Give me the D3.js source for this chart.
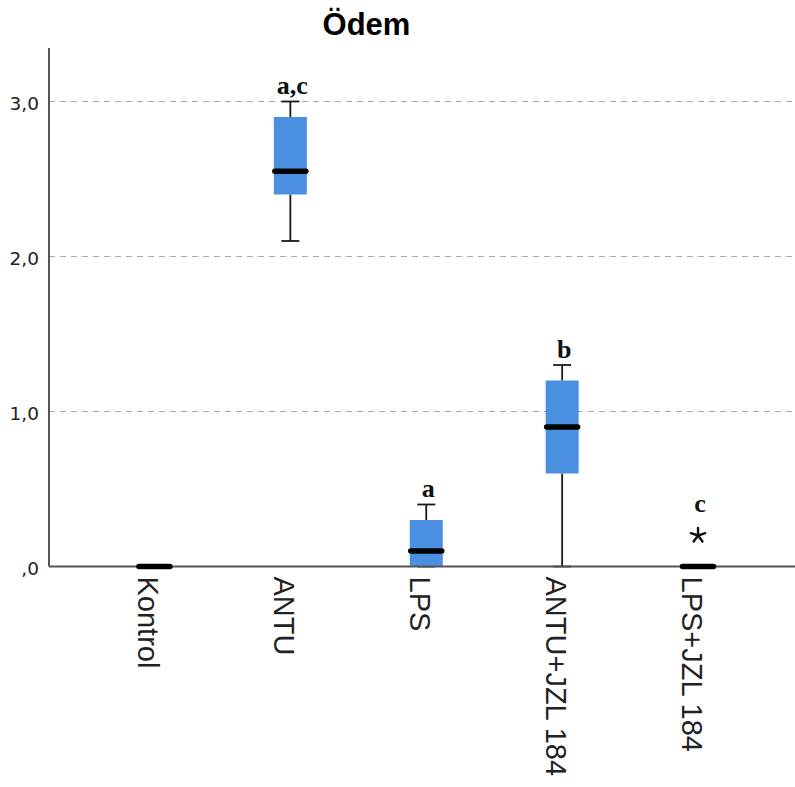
<!DOCTYPE html>
<html>
<head>
<meta charset="utf-8">
<script src="https://cdn.jsdelivr.net/npm/d3@7"></script>
<style>
  html, body { margin: 0; padding: 0; background: #fff; }
  svg { display: block; }
</style>
</head>
<body>
<svg id="chart" width="795" height="787"></svg>
<script>
// Box plot data per group (Ödem score)
const groups      = ["Kontrol", "ANTU", "LPS", "ANTU+JZL 184", "LPS+JZL 184"];
const whiskerLow  = [0, 2.1, 0, 0, 0];
const q1          = [0, 2.4, 0, 0.6, 0];
const median      = [0, 2.55, 0.1, 0.9, 0];
const q3          = [0, 2.9, 0.3, 1.2, 0];
const whiskerHigh = [0, 3.0, 0.4, 1.3, 0];
const outliers    = [[], [], [], [], [0.2]];
const letters     = ["", "a,c", "a", "b", "c"];

const yTickValues = [0, 1, 2, 3];
const yTickLabels = [",0", "1,0", "2,0", "3,0"];
const title = "Ödem";

const plotLeft = 49, plotRight = 795, plotTop = 48, plotBottom = 566.5;

const svg = d3.select("#chart");

const x = d3.scalePoint().domain(groups).range([plotLeft, 803.5]).padding(0.776);
const y = d3.scaleLinear().domain([0, 3.345]).range([plotBottom, plotTop]);

const boxW = 33, capW = 18;
const boxColor = "#4a8fe0";
const ink = "#1a1a1a";

// Title
svg.append("text")
  .attr("x", 366.5).attr("y", 35)
  .attr("text-anchor", "middle")
  .style("font-family", "'Liberation Sans', Arial, sans-serif")
  .style("font-weight", "bold")
  .style("font-size", "31px")
  .attr("fill", "#000")
  .text(title);

// Dashed reference lines
svg.append("g").selectAll("line")
  .data(yTickValues.filter(v => v > 0))
  .join("line")
  .attr("x1", plotLeft).attr("x2", plotRight)
  .attr("y1", d => y(d)).attr("y2", d => y(d))
  .attr("stroke", "#a8a8a8").attr("stroke-width", 1)
  .attr("stroke-dasharray", "6,5");

const data = groups.map((g, i) => ({
  g, lo: whiskerLow[i], q1: q1[i], med: median[i], q3: q3[i], hi: whiskerHigh[i],
  out: outliers[i], letter: letters[i]
}));

// Whiskers
const wg = svg.append("g");
data.forEach(d => {
  const cx = x(d.g);
  wg.append("line").attr("x1", cx).attr("x2", cx)
    .attr("y1", y(d.hi)).attr("y2", y(d.q3))
    .attr("stroke", ink).attr("stroke-width", 1.8);
  wg.append("line").attr("x1", cx).attr("x2", cx)
    .attr("y1", y(d.q1)).attr("y2", y(d.lo))
    .attr("stroke", ink).attr("stroke-width", 1.8);
  [d.hi, d.lo].forEach(v => {
    wg.append("line").attr("x1", cx - capW / 2).attr("x2", cx + capW / 2)
      .attr("y1", y(v)).attr("y2", y(v))
      .attr("stroke", ink).attr("stroke-width", 1.8);
  });
});

// Boxes
svg.append("g").selectAll("rect")
  .data(data.filter(d => d.q3 > d.q1))
  .join("rect")
  .attr("x", d => x(d.g) - boxW / 2)
  .attr("width", boxW)
  .attr("y", d => y(d.q3))
  .attr("height", d => y(d.q1) - y(d.q3))
  .attr("fill", boxColor);

// Y axis
const yAxis = svg.append("g")
  .attr("transform", `translate(${plotLeft},0)`)
  .call(d3.axisLeft(y).tickValues(yTickValues).tickSize(0).tickPadding(10)
    .tickFormat((d, i) => yTickLabels[i]));
yAxis.select(".domain").remove();
yAxis.selectAll("text")
  .attr("dy", "0.45em")
  .style("font-family", "'DejaVu Sans', sans-serif")
  .style("font-size", "18.5px")
  .attr("fill", "#222");
svg.append("line")
  .attr("x1", plotLeft).attr("x2", plotLeft)
  .attr("y1", plotTop).attr("y2", plotBottom)
  .attr("stroke", "#555").attr("stroke-width", 2);

// X axis
const xAxis = svg.append("g")
  .attr("transform", `translate(0,${plotBottom})`)
  .call(d3.axisBottom(x).tickSize(0).tickPadding(0));
xAxis.select(".domain").remove();
xAxis.selectAll("text")
  .attr("text-anchor", "start")
  .attr("dy", null)
  .attr("y", 0)
  .attr("transform", "translate(-17,10) rotate(90)")
  .style("font-family", "'Liberation Sans', Arial, sans-serif")
  .style("font-size", "29px")
  .attr("fill", "#222");
svg.append("line")
  .attr("x1", plotLeft).attr("x2", plotRight)
  .attr("y1", plotBottom).attr("y2", plotBottom)
  .attr("stroke", "#555").attr("stroke-width", 2);

// Medians
svg.append("g").selectAll("line")
  .data(data)
  .join("line")
  .attr("x1", d => x(d.g) - boxW / 2 + 1)
  .attr("x2", d => x(d.g) + boxW / 2 - 1)
  .attr("y1", d => y(d.med)).attr("y2", d => y(d.med))
  .attr("stroke", "#000").attr("stroke-width", 5.5)
  .attr("stroke-linecap", "round");

// Extreme values drawn as five-spoke asterisks
const og = svg.append("g");
data.forEach(d => {
  d.out.forEach(v => {
    const cx = x(d.g), cy = y(v), r = 7.5;
    for (let k = 0; k < 5; k++) {
      const a = -Math.PI / 2 + k * 2 * Math.PI / 5;
      og.append("line")
        .attr("x1", cx).attr("y1", cy)
        .attr("x2", cx + r * Math.cos(a)).attr("y2", cy + r * Math.sin(a))
        .attr("stroke", "#111").attr("stroke-width", 2.4)
        .attr("stroke-linecap", "round");
    }
  });
});

// Significance letters above each group
svg.append("g").selectAll("text")
  .data(data.filter(d => d.letter))
  .join("text")
  .attr("x", d => x(d.g) + 2)
  .attr("y", d => {
    const tops = [y(d.hi) - 7];
    d.out.forEach(v => tops.push(y(v) - 23));
    return Math.min(...tops);
  })
  .attr("text-anchor", "middle")
  .style("font-family", "'Liberation Serif', 'Times New Roman', serif")
  .style("font-weight", "bold")
  .style("font-size", "26px")
  .attr("fill", "#111")
  .text(d => d.letter);
</script>
</body>
</html>
